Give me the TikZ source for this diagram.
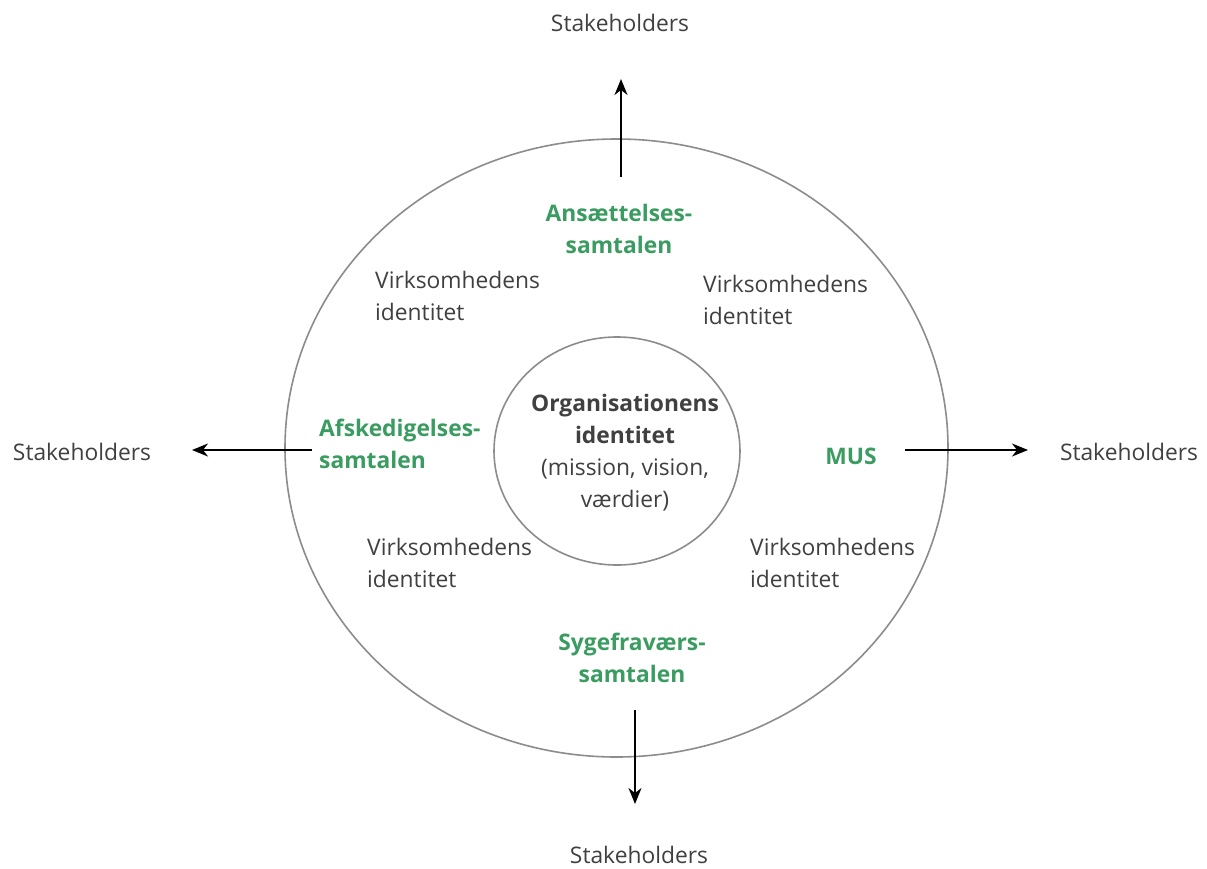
\documentclass[tikz,border=0pt]{standalone}
\usepackage{fontspec}
\setmainfont{Open Sans}
\usetikzlibrary{arrows.meta,shapes.geometric}
\definecolor{txtgray}{HTML}{404040}
\definecolor{grn}{HTML}{3A9C60}
\definecolor{ringgray}{HTML}{8C8C8C}
\begin{document}
\begin{tikzpicture}[x=1pt,y=-1pt,
  every node/.style={font=\fontsize{22.8}{32}\selectfont, text=txtgray, inner sep=0pt},
  green label/.style={font=\fontsize{22.8}{32}\selectfont\bfseries, text=grn, align=center},
  vid/.style={align=left, anchor=north west},
  ring/.style={draw=ringgray, line width=1.6pt},
  outarrow/.style={draw=black, line width=1.7pt, -{Stealth[length=16pt,width=13pt,inset=5pt]}}]
\useasboundingbox (0,0) rectangle (1207,868);
\fill[white] (0,0) rectangle (1207,868);
% rings
\node[ring, ellipse, minimum width=663pt, minimum height=618pt, inner sep=0pt] (outer) at (616.5,448) {};
\node[ring, ellipse, minimum width=246pt, minimum height=228pt, inner sep=0pt] (inner) at (617,451) {};
% center text
\node[align=center] (org) at (625,453) {\textbf{Organisationens}\\\textbf{identitet}\\(mission, vision,\\værdier)};
% green labels
\node[green label] (ans) at (619,229) {Ansættelses-\\samtalen};
\node[green label, align=left, anchor=west] (afs) at (319,444) {Afskedigelses-\\samtalen};
\node[green label] (mus) at (851,456) {MUS};
\node[green label] (syg) at (632,658) {Sygefraværs-\\samtalen};
% Virksomhedens identitet
\node[vid] (v1) at (375,271) {Virksomhedens\\identitet};
\node[vid] (v2) at (703,275) {Virksomhedens\\identitet};
\node[vid] (v3) at (367,538) {Virksomhedens\\identitet};
\node[vid] (v4) at (750,538) {Virksomhedens\\identitet};
% stakeholders
\node (sTop) at (620,23) {Stakeholders};
\node (sLeft) at (82,452) {Stakeholders};
\node (sRight) at (1129,452) {Stakeholders};
\node (sBot) at (639,855) {Stakeholders};
% arrow coordinates
\coordinate (aTopS) at (621,177);
\coordinate (aTopE) at (621,79);
\coordinate (aLeftS) at (312,450);
\coordinate (aLeftE) at (192,450);
\coordinate (aRightS) at (905,450);
\coordinate (aRightE) at (1028,450);
\coordinate (aBotS) at (635,710);
\coordinate (aBotE) at (635,804);
\draw[outarrow] (aTopS) -- (aTopE);
\draw[outarrow] (aLeftS) -- (aLeftE);
\draw[outarrow] (aRightS) -- (aRightE);
\draw[outarrow] (aBotS) -- (aBotE);
\end{tikzpicture}
\end{document}
